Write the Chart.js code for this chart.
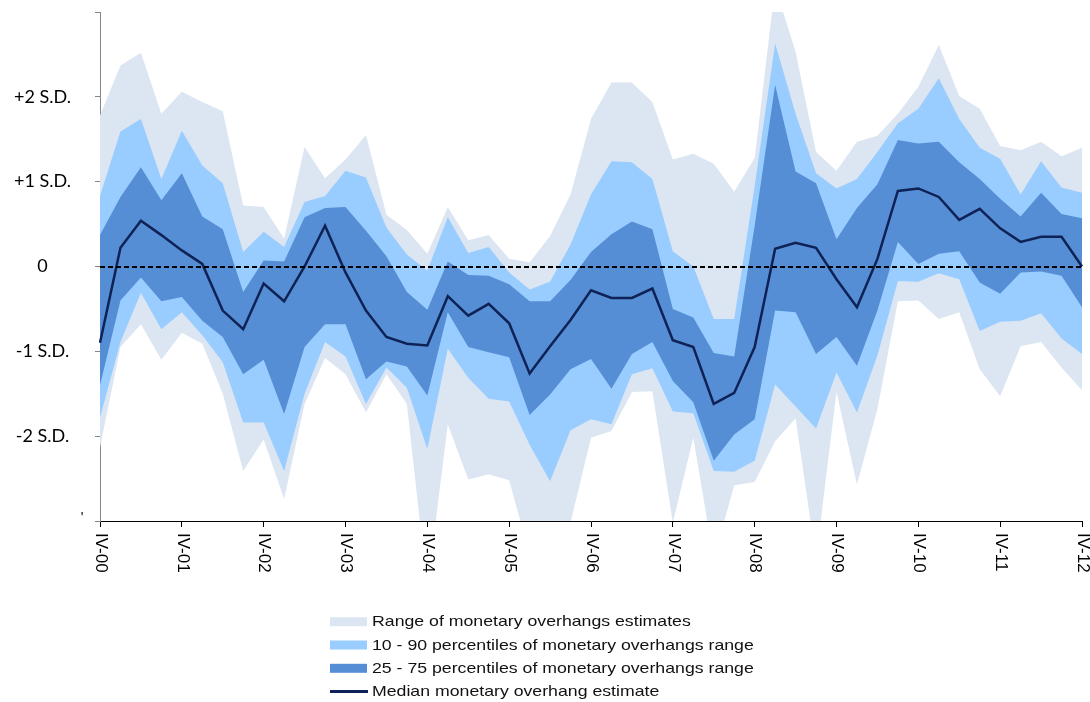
<!DOCTYPE html>
<html><head><meta charset="utf-8">
<script src="https://cdn.jsdelivr.net/npm/chart.js@4.4.1/dist/chart.umd.min.js"></script>
<style>html,body{margin:0;padding:0;background:#fff;}canvas{display:block;}</style>
</head><body>
<canvas id="c" width="1090" height="702"></canvas>
<script>
// ---- data ----
const quarters = [
  'IV-00','I-01','II-01','III-01','IV-01','I-02','II-02','III-02','IV-02',
  'I-03','II-03','III-03','IV-03','I-04','II-04','III-04','IV-04',
  'I-05','II-05','III-05','IV-05','I-06','II-06','III-06','IV-06',
  'I-07','II-07','III-07','IV-07','I-08','II-08','III-08','IV-08',
  'I-09','II-09','III-09','IV-09','I-10','II-10','III-10','IV-10',
  'I-11','II-11','III-11','IV-11','I-12','II-12','III-12','IV-12'
];
const yearTickLabels = ['IV-00','IV-01','IV-02','IV-03','IV-04','IV-05','IV-06','IV-07','IV-08','IV-09','IV-10','IV-11','IV-12'];
const yTickLabels = {'2':'+2 S.D.','1':'+1 S.D.','0':'0','-1':'-1 S.D.','-2':'-2 S.D.'};
const legendLabels = [
  'Range of monetary overhangs estimates',
  '10 - 90 percentiles of monetary overhangs range',
  '25 - 75 percentiles of monetary overhangs range',
  'Median monetary overhang estimate'
];

const rangeMax = [1.78,2.37,2.52,1.80,2.06,1.94,1.83,0.72,0.70,0.33,1.41,1.04,1.26,1.55,0.61,0.43,0.15,0.70,0.31,0.37,
  0.09,0.05,0.36,0.85,1.74,2.17,2.17,1.94,1.26,1.33,1.21,0.88,1.28,3.30,2.53,1.35,1.13,1.47,1.54,1.80,
  2.12,2.61,2.01,1.86,1.42,1.37,1.47,1.30,1.40];
const p90 = [0.83,1.59,1.74,1.03,1.60,1.19,0.98,0.17,0.41,0.23,0.76,0.83,1.13,1.05,0.46,0.14,-0.05,0.58,0.16,0.23,
  -0.07,-0.27,-0.18,0.26,0.85,1.24,1.23,1.03,0.18,0.00,-0.62,-0.62,0.95,2.63,1.80,1.10,0.92,1.03,1.35,1.69,
  1.86,2.22,1.74,1.40,1.27,0.85,1.24,0.93,0.87];
const p75 = [0.37,0.82,1.17,0.78,1.10,0.59,0.44,-0.30,0.07,0.06,0.58,0.69,0.70,0.42,0.12,-0.30,-0.51,0.06,-0.10,-0.11,
  -0.21,-0.41,-0.41,-0.16,0.17,0.38,0.53,0.44,-0.50,-0.60,-1.02,-1.06,0.48,2.14,1.12,0.98,0.32,0.69,0.97,1.49,
  1.45,1.47,1.23,1.03,0.80,0.59,0.87,0.62,0.57];
const median = [-0.90,0.22,0.54,0.37,0.19,0.03,-0.52,-0.74,-0.20,-0.41,0.00,0.48,-0.07,-0.52,-0.83,-0.91,-0.93,-0.35,-0.58,-0.44,
  -0.67,-1.26,-0.94,-0.63,-0.28,-0.37,-0.37,-0.26,-0.87,-0.95,-1.62,-1.49,-0.95,0.21,0.28,0.22,-0.15,-0.48,0.09,0.89,
  0.92,0.82,0.55,0.68,0.45,0.29,0.35,0.35,0.00];
const p25 = [-1.40,-0.40,-0.13,-0.41,-0.36,-0.64,-0.83,-1.27,-1.10,-1.74,-0.95,-0.68,-0.68,-1.33,-1.12,-1.18,-1.52,-0.54,-0.95,-1.01,
  -1.07,-1.75,-1.51,-1.21,-1.09,-1.44,-1.03,-0.89,-1.35,-1.60,-2.29,-1.98,-1.80,-0.52,-0.54,-1.03,-0.83,-1.17,-0.52,0.29,
  0.03,0.15,0.18,-0.19,-0.32,-0.07,-0.06,-0.11,-0.48];
const p10 = [-1.78,-0.89,-0.31,-0.74,-0.54,-0.81,-1.13,-1.84,-1.84,-2.41,-1.50,-0.89,-1.06,-1.62,-1.19,-1.43,-2.15,-0.97,-1.31,-1.56,
  -1.59,-2.10,-2.53,-1.93,-1.80,-1.86,-1.27,-1.20,-1.71,-1.73,-2.41,-2.42,-2.29,-1.39,-1.65,-1.91,-1.25,-1.72,-1.05,-0.17,
  -0.18,-0.08,-0.15,-0.76,-0.65,-0.64,-0.55,-0.85,-1.03];
const rangeMin = [-2.13,-0.95,-0.68,-1.10,-0.78,-0.91,-1.50,-2.41,-2.04,-2.74,-1.62,-1.08,-1.27,-1.72,-1.27,-1.62,-3.80,-1.86,-2.51,-2.45,
  -2.52,-3.40,-3.60,-3.02,-2.02,-1.94,-1.48,-1.47,-3.02,-2.02,-3.45,-2.58,-2.54,-2.06,-1.79,-3.45,-1.48,-2.57,-1.68,-0.41,
  -0.40,-0.62,-0.54,-1.21,-1.53,-0.94,-0.89,-1.19,-1.46];

// ---- styles ----
const GREY = '#DCE6F2', LIGHT = '#99CCFF', MID = '#558ED5', NAVY = '#0f2255';
const NONE = 'rgba(0,0,0,0)';

const band = (label, data, bg, fillTarget, order) => ({
  label, data, backgroundColor: bg, borderColor: NONE, borderWidth: 0,
  pointRadius: 0, pointHoverRadius: 0, fill: fillTarget, order, tension: 0
});

const overlay = {
  id: 'overlay',
  afterDatasetsDraw(chart) {
    const {ctx, chartArea, scales: {y}} = chart;
    const yy = Math.round(y.getPixelForValue(0));
    ctx.save();
    ctx.strokeStyle = '#000';
    ctx.lineWidth = 2;
    ctx.setLineDash([5, 3]);
    ctx.beginPath();
    ctx.moveTo(chartArea.left, yy);
    ctx.lineTo(chartArea.right, yy);
    ctx.stroke();
    ctx.restore();
  },
  afterDraw(chart) {
    const {ctx, chartArea, scales: {x}} = chart;
    // x labels, rotated clockwise
    ctx.save();
    ctx.font = '17px "Liberation Sans", Arial, sans-serif';
    ctx.fillStyle = '#000';
    ctx.textAlign = 'left';
    ctx.textBaseline = 'middle';
    quarters.forEach((q, i) => {
      if (yearTickLabels.includes(q)) {
        const px = x.getPixelForValue(i);
        ctx.save();
        ctx.translate(px + 0.5, chartArea.bottom + 12);
        ctx.rotate(Math.PI / 2);
        ctx.fillText(q, 0, 0);
        ctx.restore();
      }
    });
    ctx.restore();
    // stray mark near bottom of y axis
    ctx.save();
    ctx.font = '14px "Liberation Sans", Arial, sans-serif';
    ctx.fillStyle = '#000';
    ctx.textAlign = 'center';
    ctx.textBaseline = 'middle';
    ctx.fillText("'", 82, 518);
    ctx.restore();
    // legend
    const colors = [GREY, LIGHT, MID];
    const lx = 330, tx = 372, y0 = 621.7, dy = 23.3;
    ctx.save();
    legendLabels.forEach((lab, k) => {
      const cy = y0 + k * dy;
      if (k < 3) {
        ctx.fillStyle = colors[k];
        ctx.fillRect(lx, cy - 4.5, 37, 9);
      } else {
        ctx.strokeStyle = NAVY;
        ctx.lineWidth = 3;
        ctx.beginPath();
        ctx.moveTo(lx, cy);
        ctx.lineTo(lx + 38, cy);
        ctx.stroke();
      }
      ctx.save();
      ctx.translate(tx, cy);
      ctx.scale(1.18, 1);
      ctx.font = '15px "Liberation Sans", Arial, sans-serif';
      ctx.fillStyle = '#111';
      ctx.textAlign = 'left';
      ctx.textBaseline = 'middle';
      ctx.fillText(lab, 0, 0.5);
      ctx.restore();
    });
    ctx.restore();
  }
};

new Chart(document.getElementById('c'), {
  type: 'line',
  data: {
    labels: quarters,
    datasets: [
      {label: legendLabels[3], data: median, borderColor: NAVY, borderWidth: 2.5,
       pointRadius: 0, pointHoverRadius: 0, fill: false, order: 0, tension: 0},
      band(legendLabels[2], p75, MID, 2, 1),
      band('25th percentile', p25, NONE, false, 1),
      band(legendLabels[1], p90, LIGHT, 4, 2),
      band('10th percentile', p10, NONE, false, 2),
      band(legendLabels[0], rangeMax, GREY, 6, 3),
      band('Minimum', rangeMin, NONE, false, 3)
    ]
  },
  options: {
    responsive: false,
    animation: false,
    layout: {padding: {top: 12, right: 8, left: 0, bottom: 0}},
    plugins: {legend: {display: false}, tooltip: {enabled: false}},
    scales: {
      x: {
        type: 'category',
        offset: false,
        grid: {
          display: true, drawOnChartArea: false, drawTicks: true, tickLength: 6, offset: false,
          tickColor: c => (c.index % 4 === 0 ? '#000' : NONE)
        },
        border: {display: true, color: '#000', width: 1},
        ticks: {autoSkip: false, maxRotation: 0, minRotation: 0, color: NONE, callback: () => ''},
        afterFit: s => { s.height = 181; s.paddingLeft = 0; s.paddingRight = 0; }
      },
      y: {
        min: -3, max: 3,
        grid: {drawOnChartArea: false, drawTicks: true, tickLength: 5, tickColor: '#868686'},
        border: {display: true, color: '#868686', width: 1},
        ticks: {
          stepSize: 1, crossAlign: 'center', padding: 24, color: '#000',
          font: {family: 'Lato', size: 18},
          callback: v => (yTickLabels[String(v)] !== undefined ? yTickLabels[String(v)] : '')
        },
        afterFit: s => { s.width = 100; s.paddingTop = 0; s.paddingBottom = 0; }
      }
    }
  },
  plugins: [overlay]
});
</script>
</body></html>
